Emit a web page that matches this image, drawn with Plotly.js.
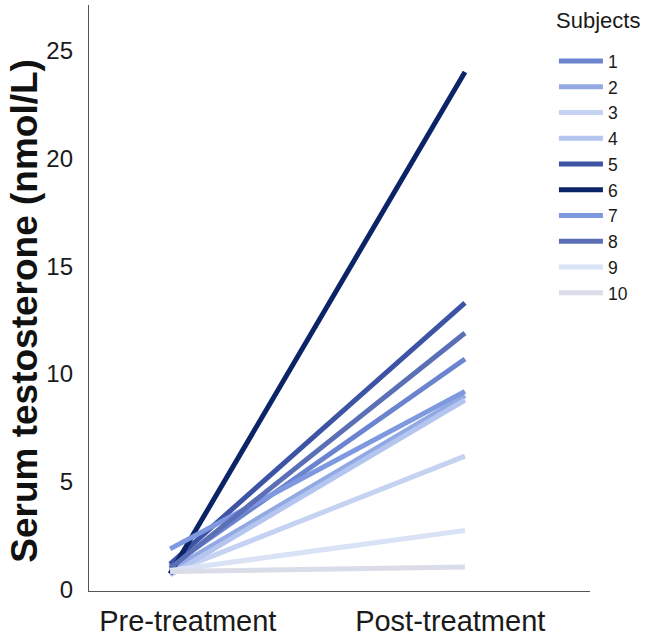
<!DOCTYPE html>
<html>
<head>
<meta charset="utf-8">
<script src="https://cdn.plot.ly/plotly-3.0.1.min.js"></script>
<style>
  html, body { margin: 0; padding: 0; background: #ffffff; }
  #chart { width: 647px; height: 642px; }
</style>
</head>
<body>
<div id="chart"></div>
<script>
// Paired measurements per subject: before and after treatment
const categories = ['Pre-treatment', 'Post-treatment'];
const subjects = ['1', '2', '3', '4', '5', '6', '7', '8', '9', '10'];
const preValues  = [1.1, 0.9, 0.8, 0.7, 1.2, 0.75, 1.9, 1.0, 0.9, 0.85];
const postValues = [10.7, 9.0, 6.2, 8.8, 13.3, 24.0, 9.2, 11.9, 2.75, 1.06];
const subjectColors = ['#6b84cf', '#93a9e3', '#c6d2f2', '#b4c5f0', '#3d53a3',
                       '#0b2467', '#7f99e0', '#5a6fb5', '#dae2f6', '#dadce8'];
const yTicks = [0, 5, 10, 15, 20, 25];
const yTitle = 'Serum testosterone (nmol/L)';
const legendTitle = 'Subjects';

const font = 'Liberation Sans, Arial, sans-serif';
const xIdx = categories.map((c, i) => i);

const traces = subjects.map((s, i) => ({
  type: 'scatter',
  mode: 'lines',
  name: s,
  x: xIdx,
  y: [preValues[i], postValues[i]],
  line: { color: subjectColors[i], width: 5 },
  hoverinfo: 'skip'
}));

const layout = {
  width: 647,
  height: 642,
  margin: { l: 89, r: 57, t: 5, b: 51 },
  paper_bgcolor: '#ffffff',
  plot_bgcolor: '#ffffff',
  showlegend: true,
  font: { family: font, color: '#1a1a1a' },
  xaxis: {
    range: [-0.275, 1.424],
    tickmode: 'array',
    tickvals: [0.06, 0.95],
    ticktext: categories,
    tickfont: { size: 29, family: font, color: '#1a1a1a' },
    ticklabelstandoff: 4,
    showgrid: false,
    zeroline: false,
    showline: true,
    linecolor: '#555555',
    linewidth: 1.2,
    ticks: ''
  },
  yaxis: {
    range: [-0.05, 27.1],
    tickmode: 'array',
    tickvals: yTicks,
    ticktext: yTicks.map(String),
    tickfont: { size: 24, family: font, color: '#1a1a1a' },
    showgrid: false,
    zeroline: false,
    showline: true,
    linecolor: '#555555',
    linewidth: 1.2,
    ticks: '',
    ticklabelstandoff: 10
  },
  annotations: [
    {
      // vertical axis title
      text: yTitle,
      xref: 'paper', yref: 'paper',
      x: -0.128, y: 0.478,
      xanchor: 'center', yanchor: 'middle',
      textangle: -90,
      showarrow: false,
      font: { size: 37, family: font, color: '#111111', weight: 'bold' }
    },
    {
      // legend heading
      text: legendTitle,
      xref: 'paper', yref: 'paper',
      x: 0.928, y: 0.974,
      xanchor: 'left', yanchor: 'middle',
      showarrow: false,
      font: { size: 22, family: font, color: '#1a1a1a' }
    }
  ],
  legend: {
    x: 0.928,
    xanchor: 'left',
    y: 0.935,
    yanchor: 'top',
    bgcolor: 'rgba(255,255,255,0)',
    font: { size: 17.5, family: font, color: '#1a1a1a' },
    tracegroupgap: 0,
    itemwidth: 44
  }
};

Plotly.newPlot('chart', traces, layout, { displayModeBar: false, staticPlot: true });
</script>
</body>
</html>
